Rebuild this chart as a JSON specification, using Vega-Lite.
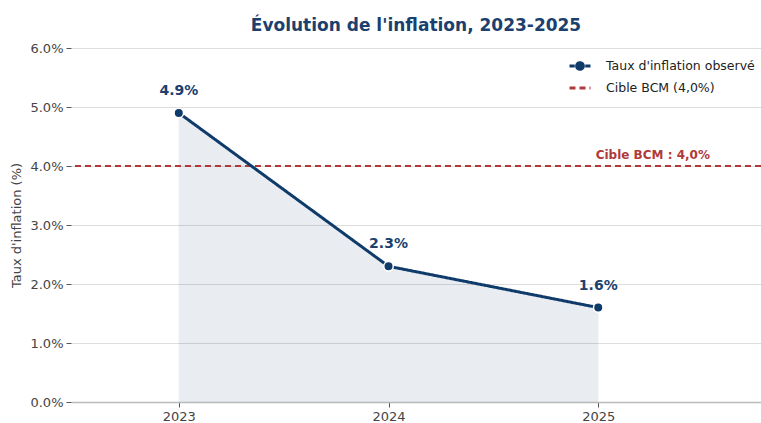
{
  "$schema": "https://vega.github.io/schema/vega-lite/v6.json",
  "autosize": "none",
  "width": 690,
  "height": 354,
  "padding": {"left": 71, "top": 48, "right": 0, "bottom": 21},
  "background": "white",
  "config": {
    "font": "DejaVu Sans",
    "view": {"stroke": null},
    "axis": {"labelFont": "DejaVu Sans", "titleFont": "DejaVu Sans", "labelColor": "#444", "titleColor": "#444", "labelFontSize": 13, "titleFontSize": 13, "titleFontWeight": "normal"},
    "legend": {"title": null, "orient": "none", "legendX": 497, "legendY": 6, "symbolType": "stroke", "symbolStrokeWidth": 3, "symbolSize": 441, "labelFontSize": 12.5, "labelColor": "#222", "rowPadding": -2, "labelOffset": 14}
  },
  "title": {"text": "Évolution de l'inflation, 2023-2025", "font": "DejaVu Sans", "fontSize": 17, "fontWeight": "bold", "color": "#1b3f6e", "offset": 7, "anchor": "middle"},
  "datasets": {
    "infl": [
      {"annee": 2023, "taux": 4.9, "label": "4.9%", "serie": "Taux d'inflation observé"},
      {"annee": 2024, "taux": 2.3, "label": "2.3%", "serie": "Taux d'inflation observé"},
      {"annee": 2025, "taux": 1.6, "label": "1.6%", "serie": "Taux d'inflation observé"}
    ],
    "cible": [
      {"taux": 4.0, "serie": "Cible BCM (4,0%)", "annee": 2025.26, "label": "Cible BCM : 4,0%"}
    ]
  },
  "encoding": {
    "x": {"field": "annee", "type": "quantitative", "scale": {"domain": [2022.486, 2025.776], "nice": false, "zero": false},
      "axis": {"values": [2023, 2024, 2025], "format": "d", "title": null, "grid": false, "domainColor": "#bbbbbb", "domainWidth": 1.5, "tickColor": "#555", "tickSize": 5, "labelPadding": 3}},
    "y": {"field": "taux", "type": "quantitative", "scale": {"domain": [0, 6], "nice": false},
      "axis": {"values": [0, 1, 2, 3, 4, 5, 6], "labelExpr": "format(datum.value, '.1f') + '%'", "title": "Taux d'inflation (%)", "titlePadding": 6, "domain": false, "gridColor": "#dddddd", "gridWidth": 1, "tickColor": "#555", "tickSize": 5, "labelPadding": 3}}
  },
  "layer": [
    {"data": {"name": "infl"}, "mark": {"type": "area", "color": "#1b3f6e", "opacity": 0.09, "stroke": "#1b3f6e", "strokeWidth": 1, "strokeOpacity": 0.15}},
    {
      "data": {"name": "cible"},
      "mark": {"type": "rule", "strokeWidth": 2, "strokeDash": [7, 4]},
      "encoding": {
        "x": null,
        "y": {"field": "taux", "type": "quantitative"},
        "color": {
          "field": "serie", "type": "nominal",
          "scale": {"domain": ["Taux d'inflation observé", "Cible BCM (4,0%)"], "range": ["#0f3b6b", "#b03a3a"]},
          "legend": {
            "encode": {
              "symbols": {
                "update": {
                  "shape": {"signal": "datum.label === 'Cible BCM (4,0%)' ? 'stroke' : 'M-1,0H-0.5M0.5,0H1M0.32,0A0.32,0.32,0,1,1,-0.32,0A0.32,0.32,0,1,1,0.32,0Z'"},
                  "fill": {"signal": "datum.label === 'Cible BCM (4,0%)' ? 'transparent' : '#0f3b6b'"}
                }
              }
            }
          }
        },
        "strokeDash": {
          "field": "serie", "type": "nominal",
          "scale": {"domain": ["Taux d'inflation observé", "Cible BCM (4,0%)"], "range": [[1, 0], [6, 4]]},
          "legend": {
            "encode": {
              "symbols": {
                "update": {
                  "shape": {"signal": "datum.label === 'Cible BCM (4,0%)' ? 'stroke' : 'M-1,0H-0.5M0.5,0H1M0.32,0A0.32,0.32,0,1,1,-0.32,0A0.32,0.32,0,1,1,0.32,0Z'"},
                  "fill": {"signal": "datum.label === 'Cible BCM (4,0%)' ? 'transparent' : '#0f3b6b'"}
                }
              }
            }
          }
        }
      }
    },
    {"data": {"name": "infl"}, "mark": {"type": "line", "strokeWidth": 3},
      "encoding": {"color": {"field": "serie", "type": "nominal"}, "strokeDash": {"value": [1, 0]}}},
    {"data": {"name": "infl"}, "mark": {"type": "point", "filled": true, "size": 90, "stroke": "white", "strokeWidth": 1.5, "opacity": 1},
      "encoding": {"fill": {"value": "#0f3b6b"}}},
    {"data": {"name": "infl"}, "mark": {"type": "text", "dy": -22, "fontSize": 14, "fontWeight": "bold", "color": "#1b3f6e"},
      "encoding": {"text": {"field": "label"}}},
    {"data": {"name": "cible"}, "mark": {"type": "text", "dy": -11, "align": "center", "fontSize": 12, "fontWeight": "bold", "color": "#b03a3a"},
      "encoding": {"text": {"field": "label"}}}
  ]
}
